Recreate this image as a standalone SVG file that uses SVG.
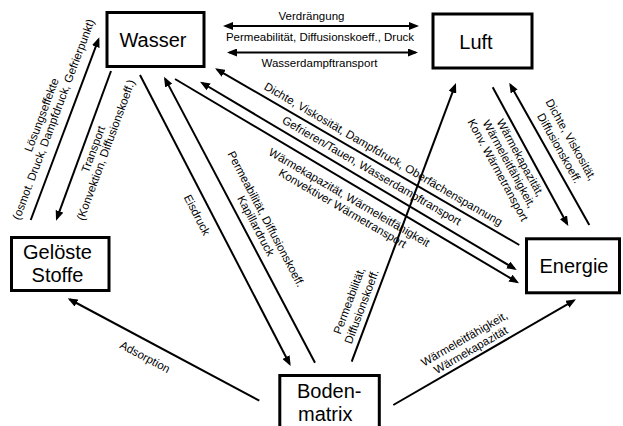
<svg xmlns="http://www.w3.org/2000/svg" width="623" height="426" viewBox="0 0 623 426">
<defs>
<marker id="ah" viewBox="0 0 10 8" refX="7.5" refY="4" markerWidth="10" markerHeight="8" markerUnits="userSpaceOnUse" orient="auto-start-reverse"><path d="M0,0 L10,4 L0,8 z" fill="#000"/></marker>
<style>
.box{fill:#fff;stroke:#000;stroke-width:3}
.nt{font-family:"Liberation Sans",Arial,sans-serif;font-size:20px;fill:#000;text-anchor:middle}
.c{stroke:#000;stroke-width:2;fill:none}
.lb{font-family:"Liberation Sans",Arial,sans-serif;font-size:11.5px;fill:#000;text-anchor:middle}
</style>
</defs>
<rect x="0" y="0" width="623" height="426" fill="#fff"/>
<g id="connectors">
  <g id="c-wasser-luft-1">
    <line class="c" x1="225.5" y1="26" x2="416.5" y2="26" marker-start="url(#ah)" marker-end="url(#ah)"/>
    <text class="lb" x="311.5" y="20">Verdrängung</text>
    <text class="lb" x="320" y="41">Permeabilität, Diffusionskoeff., Druck</text>
  </g>
  <g id="c-wasser-luft-2">
    <line class="c" x1="229.5" y1="52.5" x2="415.5" y2="52.5" marker-start="url(#ah)" marker-end="url(#ah)"/>
    <text class="lb" x="319.5" y="67">Wasserdampftransport</text>
  </g>
  <g id="c-geloeste-wasser">
    <line class="c" x1="30.7" y1="220" x2="98.4" y2="39.6" marker-end="url(#ah)"/>
    <text class="lb" transform="translate(45.3,116.4) rotate(-69.4)">Lösungseffekte</text>
    <text class="lb" transform="translate(57.1,120.8) rotate(-69.4)">(osmot. Druck, Dampfdruck, Gefrierpunkt)</text>
  </g>
  <g id="c-wasser-geloeste">
    <line class="c" x1="111" y1="71" x2="56.9" y2="218.3" marker-end="url(#ah)"/>
    <text class="lb" transform="translate(96.9,150.6) rotate(-69.8)">Transport</text>
    <text class="lb" transform="translate(109.4,151.3) rotate(-69.8)">(Konvektion, Diffusionskoeff.)</text>
  </g>
  <g id="c-wasser-boden">
    <line class="c" x1="140" y1="75" x2="289.5" y2="363.8" marker-end="url(#ah)"/>
    <text class="lb" transform="translate(193.6,216.7) rotate(62.6)">Eisdruck</text>
  </g>
  <g id="c-boden-wasser">
    <line class="c" x1="315" y1="362.7" x2="165.2" y2="78.9" marker-end="url(#ah)"/>
    <text class="lb" transform="translate(262.6,220.8) rotate(62.2)">Permeabilität, Diffusionskoeff.</text>
    <text class="lb" transform="translate(252.4,227.6) rotate(62.2)">Kapillardruck</text>
  </g>
  <g id="c-boden-luft">
    <line class="c" x1="351.7" y1="361.7" x2="455.1" y2="85.3" marker-end="url(#ah)"/>
    <text class="lb" transform="translate(352.8,302.1) rotate(-69.5)">Permeabilität,</text>
    <text class="lb" transform="translate(365.3,308) rotate(-69.5)">Diffusionskoeff.</text>
  </g>
  <g id="c-luft-energie">
    <line class="c" x1="492.7" y1="87.3" x2="567.1" y2="223.8" marker-end="url(#ah)"/>
    <text class="lb" transform="translate(516.9,159.7) rotate(61.4)">Wärmekapazität,</text>
    <text class="lb" transform="translate(505.7,165.8) rotate(61.4)">Wärmeleitfähigkeit,</text>
    <text class="lb" transform="translate(494.5,171.9) rotate(61.4)">Konv. Wärmetransport</text>
  </g>
  <g id="c-energie-luft">
    <line class="c" x1="589.3" y1="225" x2="510.5" y2="84.9" marker-end="url(#ah)"/>
    <text class="lb" transform="translate(567.5,141.6) rotate(60.7)">Dichte, Viskosität,</text>
    <text class="lb" transform="translate(555.9,150.2) rotate(60.7)">Diffusionskoeff.</text>
  </g>
  <g id="c-energie-wasser">
    <line class="c" x1="519.3" y1="245" x2="217.2" y2="69.6" marker-end="url(#ah)"/>
    <text class="lb" transform="translate(381.4,157.5) rotate(30.2)">Dichte, Viskosität, Dampfdruck, Oberfächenspannung</text>
  </g>
  <g id="c-wasser-energie-gefrieren">
    <line class="c" x1="202.2" y1="83" x2="514.6" y2="268.7" marker-start="url(#ah)" marker-end="url(#ah)"/>
    <text class="lb" transform="translate(369.8,174.1) rotate(30.2)">Gefrieren/Tauen, Wasserdampftransport</text>
  </g>
  <g id="c-wasser-energie">
    <line class="c" x1="175" y1="79" x2="516.9" y2="282" marker-end="url(#ah)"/>
    <text class="lb" transform="translate(347.3,200.8) rotate(30.2)">Wärmekapazität, Wärmeleitfähigkeit</text>
    <text class="lb" transform="translate(340.6,211.6) rotate(30.2)">Konvektiver Wärmetransport</text>
  </g>
  <g id="c-boden-geloeste">
    <line class="c" x1="259.3" y1="400.7" x2="69.9" y2="299.5" marker-end="url(#ah)"/>
    <text class="lb" transform="translate(143.2,360.4) rotate(28.1)">Adsorption</text>
  </g>
  <g id="c-boden-energie">
    <line class="c" x1="393.3" y1="405" x2="573.8" y2="300.6" marker-end="url(#ah)"/>
    <text class="lb" transform="translate(466.2,342.2) rotate(-30.05)">Wärmeleitfähigkeit,</text>
    <text class="lb" transform="translate(472.7,353.4) rotate(-30.05)">Wärmekapazität</text>
  </g>
</g>
<g id="wasser">
  <rect class="box" x="107" y="12.5" width="97" height="54"/>
  <text class="nt" x="153" y="47">Wasser</text>
</g>
<g id="luft">
  <rect class="box" x="433" y="14" width="99" height="54"/>
  <text class="nt" x="476" y="49">Luft</text>
</g>
<g id="geloeste-stoffe">
  <rect class="box" x="11.5" y="237.5" width="97.5" height="53"/>
  <text class="nt" x="57.5" y="259.3">Gelöste</text>
  <text class="nt" x="57.5" y="282.3">Stoffe</text>
</g>
<g id="energie">
  <rect class="box" x="526.5" y="238.8" width="93" height="54"/>
  <text class="nt" x="574" y="273.3">Energie</text>
</g>
<g id="bodenmatrix">
  <rect class="box" x="279.8" y="375.5" width="99.5" height="60"/>
  <text class="nt" x="297" y="398" style="text-anchor:start">Boden-</text>
  <text class="nt" x="298" y="421" style="text-anchor:start">matrix</text>
</g>
</svg>
